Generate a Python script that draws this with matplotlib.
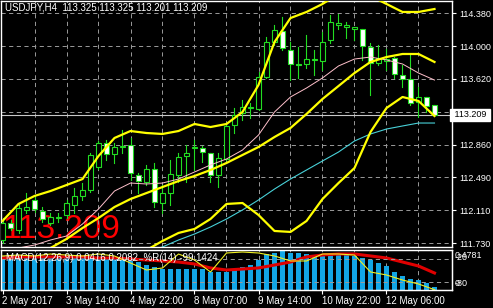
import numpy as np
import matplotlib
matplotlib.use("Agg")
import matplotlib.pyplot as plt
import matplotlib.transforms as mtransforms
from matplotlib.patches import Rectangle

plt.rcParams['font.family'] = ['Liberation Sans', 'DejaVu Sans']
plt.rcParams['lines.scale_dashes'] = False

# USDJPY H4 candles
opens = [111.766, 111.960, 111.882, 112.112, 112.227, 112.100, 111.962, 112.019, 112.054, 112.169,
         112.273, 112.342, 112.607, 112.883, 112.756, 112.837, 112.860, 112.515, 112.434, 112.584,
         112.192, 112.307, 112.515, 112.733, 112.825, 112.825, 112.768, 112.515, 112.699, 113.090,
         113.228, 113.286, 113.275, 113.643, 114.046, 114.173, 113.954, 113.793, 113.793, 113.839,
         113.827, 114.069, 114.242, 114.219, 114.196, 114.196, 113.988, 113.804, 113.827, 113.862,
         113.666, 113.620, 113.355, 113.413, 113.325]
highs = [112.019, 112.000, 112.192, 112.307, 112.284, 112.146, 112.077, 112.077, 112.227, 112.365,
         112.422, 112.768, 112.906, 112.918, 112.883, 113.033, 112.941, 112.538, 112.630, 112.653,
         112.399, 112.687, 112.768, 112.860, 112.918, 112.849, 112.768, 112.768, 113.113, 113.286,
         113.378, 113.344, 113.701, 114.104, 114.242, 114.334, 114.046, 113.988, 114.127, 113.954,
         114.161, 114.357, 114.368, 114.276, 114.219, 114.196, 114.035, 114.012, 113.965, 113.873,
         113.781, 113.896, 113.528, 113.413, 113.325]
lows = [111.735, 111.880, 111.847, 112.077, 112.089, 111.973, 111.939, 111.973, 112.019, 112.077,
        112.227, 112.319, 112.584, 112.687, 112.653, 112.768, 112.457, 112.307, 112.399, 112.146,
        112.077, 112.169, 112.434, 112.434, 112.572, 112.664, 112.434, 112.376, 112.687, 112.998,
        113.148, 113.171, 113.263, 113.631, 114.012, 113.954, 113.608, 113.631, 113.747, 113.666,
        113.724, 114.035, 114.196, 114.092, 114.069, 113.839, 113.436, 113.781, 113.724, 113.631,
        113.528, 113.321, 113.182, 113.240, 113.201]
closes = [111.962, 111.900, 112.135, 112.146, 112.123, 112.008, 112.031, 112.031, 112.192, 112.273,
          112.342, 112.745, 112.883, 112.756, 112.837, 112.849, 112.538, 112.445, 112.584, 112.204,
          112.307, 112.526, 112.722, 112.768, 112.837, 112.779, 112.515, 112.710, 113.079, 113.205,
          113.298, 113.298, 113.643, 114.046, 114.184, 113.977, 113.793, 113.781, 113.850, 113.850,
          114.046, 114.276, 114.265, 114.242, 114.219, 114.000, 113.804, 113.862, 113.850, 113.678,
          113.620, 113.344, 113.413, 113.309, 113.209]

# indicator lines, read every second bar
line_bars = list(range(0, 55, 2))
bb_upper = [111.985, 112.181, 112.273, 112.330, 112.399, 112.468, 112.733, 112.941, 113.021, 112.998,
            112.987, 113.021, 113.102, 113.067, 113.102, 113.240, 113.551, 114.046, 114.322, 114.392,
            114.484, 114.599, 114.645, 114.576, 114.484, 114.392, 114.392, 114.426]
bb_middle = [111.317, 111.444, 111.559, 111.674, 111.778, 111.904, 112.019, 112.146, 112.238, 112.307,
             112.376, 112.445, 112.503, 112.572, 112.653, 112.745, 112.837, 112.952, 113.056, 113.217,
             113.390, 113.539, 113.689, 113.816, 113.873, 113.908, 113.908, 113.816]
bb_lower = [111.60, 111.56, 111.52, 111.48, 111.45, 111.45, 111.47, 111.51, 111.58, 111.65,
            111.755, 111.847, 111.893, 112.008, 112.181, 112.192, 112.054, 111.870, 111.859, 111.985,
            112.238, 112.422, 112.595, 113.010, 113.286, 113.413, 113.367, 113.194]
ma_pink = [111.628, 111.674, 111.708, 111.766, 111.812, 111.950, 112.123, 112.330, 112.422, 112.411,
           112.422, 112.468, 112.549, 112.630, 112.699, 112.802, 112.975, 113.240, 113.413, 113.516,
           113.632, 113.770, 113.850, 113.873, 113.839, 113.793, 113.689, 113.608]
ma_cyan = [111.20, 111.24, 111.28, 111.33, 111.38, 111.42, 111.47, 111.52, 111.57, 111.63,
           111.686, 111.766, 111.835, 111.916, 112.008, 112.112, 112.227, 112.353, 112.468, 112.572,
           112.676, 112.779, 112.906, 112.987, 113.044, 113.079, 113.113, 113.113]

# MACD(12,26,9) histogram per bar, signal and %R(14) every second bar
macd_main = [0.417, 0.417, 0.417, 0.405, 0.405, 0.405, 0.405, 0.405, 0.392, 0.392,
             0.392, 0.392, 0.392, 0.392, 0.405, 0.405, 0.368, 0.343, 0.306, 0.282,
             0.257, 0.257, 0.257, 0.257, 0.257, 0.257, 0.221, 0.221, 0.221, 0.245,
             0.282, 0.306, 0.368, 0.441, 0.454, 0.478, 0.454, 0.454, 0.441, 0.429,
             0.417, 0.441, 0.441, 0.429, 0.417, 0.392, 0.368, 0.331, 0.294, 0.221,
             0.172, 0.135, 0.123, 0.086, 0.0416]
macd_signal = [0.392, 0.405, 0.405, 0.405, 0.405, 0.405, 0.392, 0.392, 0.380, 0.368,
               0.356, 0.343, 0.319, 0.270, 0.245, 0.257, 0.270, 0.306, 0.343, 0.405,
               0.429, 0.441, 0.441, 0.417, 0.392, 0.343, 0.294, 0.2082]
wpr = [-12.8, -10.3, -12.8, -7.7, -10.3, -12.8, -7.7, -12.8, -30.8, -48.7,
       -43.6, -7.7, -23.1, -53.8, -5.1, -2.6, -5.1, -12.8, -25.6, -25.6,
       -7.7, -7.7, -10.3, -53.8, -61.5, -74.4, -84.6, -99.1]

price_ticks = [114.380, 114.000, 113.620, 112.860, 112.490, 112.110, 111.730]
grid_prices = [114.380, 114.000, 113.620, 113.240, 112.860, 112.490, 112.110, 111.730]
time_bars = [0, 8, 16, 24, 32, 40, 48]
time_labels = ["2 May 2017", "3 May 14:00", "4 May 22:00", "8 May 07:00",
               "9 May 14:00", "10 May 22:00", "12 May 06:00"]
last_price = 113.209

W, H = 493, 308
GREEN = '#22dd22'
GRID = '#9a9a9a'


def px(x, y):
    return x / W, 1 - y / H


def draw_grid(ax, hlevels):
    for v in hlevels:
        ax.axhline(v, color=GRID, lw=0.7, ls=(0, (3, 2.5)), zorder=1)
    for k in range(1, 14):
        ax.axvline(4 * k, color=GRID, lw=0.7, ls=(0, (3, 2.5)), zorder=1)


def draw_candles(ax):
    for i in range(len(opens)):
        o, h, l, c = opens[i], highs[i], lows[i], closes[i]
        ax.plot([i, i], [l, h], color=GREEN, lw=0.8, zorder=2)
        face = 'white' if c < o else 'black'
        ax.add_patch(Rectangle((i - 0.28, min(o, c)), 0.56, abs(c - o),
                               facecolor=face, edgecolor=GREEN, lw=0.8, zorder=3))


fig = plt.figure(figsize=(W / 100, H / 100), dpi=100, facecolor='black')
ax = fig.add_axes([1 / W, 1 - 247 / H, 451 / W, 246 / H], facecolor='black')
sub = fig.add_axes([1 / W, 1 - 290 / H, 451 / W, 40 / H], facecolor='black')

xlo, xhi = -0.1875, 56.1875
ax.set_xlim(xlo, xhi)
ax.set_ylim(111.6854, 114.5182)
sub.set_xlim(xlo, xhi)

for a in (ax, sub):
    for s in a.spines.values():
        s.set_color('white')
        s.set_linewidth(1)

# main chart
ax.text(0.004, 0.036, "113.209", transform=ax.transAxes, color='#ff0000',
        fontsize=24, va='baseline', ha='left', zorder=0.5)
draw_grid(ax, grid_prices)
ax.axhline(last_price, color='#c8c8c8', lw=0.8, zorder=1.5)
draw_candles(ax)
ax.plot(line_bars, ma_cyan, color='#48d1d8', lw=0.8, zorder=4)
ax.plot(line_bars, ma_pink, color='#ffc0cb', lw=0.7, zorder=4)
for band in (bb_upper, bb_middle, bb_lower):
    ax.plot(line_bars, band, color='#ffff00', lw=1.6, zorder=5)

ax.set_xticks([])
ax.yaxis.tick_right()
ax.set_yticks(price_ticks)
ax.set_yticklabels(["%.3f" % v for v in price_ticks])
ax.tick_params(axis='y', colors='white', length=3, width=0.8, pad=2, labelsize=6.5)

trans = mtransforms.blended_transform_factory(ax.transAxes, ax.transData)
ax.text(1.0, last_price, " 113.209 ", transform=trans, color='black', fontsize=6.5,
        va='center', ha='left', clip_on=False,
        bbox=dict(facecolor='white', edgecolor='white', pad=1.2))

fig.text(*px(5, 8), "USDJPY,H4  113.325 113.325 113.201 113.209", color='white',
         fontsize=7, va='center', ha='left')

# MACD + %R window
sub.set_ylim(0, 0.490)
draw_grid(sub, [])
sub.bar(range(len(macd_main)), macd_main, width=0.6, color='#12a6e6', zorder=2)
sub.plot(line_bars, macd_signal, color='#e00000', lw=2.2, zorder=4)
wax = sub.twinx()
wax.set_ylim(-100, 2.56)
wax.set_xlim(xlo, xhi)
for lv in (-20, -80):
    wax.axhline(lv, color=GRID, lw=0.7, ls=(0, (3, 2.5)), zorder=1)
wax.plot(line_bars, wpr, color='#f0f020', lw=0.8, zorder=5)
wax.set_yticks([])
for s in wax.spines.values():
    s.set_color('white')

sub.set_yticks([])
sub.set_xticks(time_bars)
sub.set_xticklabels(time_labels)
for lab in sub.get_xticklabels():
    lab.set_horizontalalignment('left')
sub.tick_params(axis='x', colors='white', length=3, width=0.8, pad=1, labelsize=7)

fig.text(*px(6, 258), "MACD(12,26,9) 0.0416 0.2082  %R(14) -99.1424", color='white',
         fontsize=7, va='center', ha='left', zorder=10)
fig.text(*px(455, 256), "0.4781", color='white', fontsize=6.5, va='center', ha='left')
fig.text(*px(455, 258), "-20", color='white', fontsize=6.5, va='center', ha='left')
fig.text(*px(455, 283), "-80", color='white', fontsize=6.5, va='center', ha='left')
fig.text(*px(455, 283), "0", color='white', fontsize=6.5, va='center', ha='left')

fig.savefig("out.png", dpi=100, facecolor='black')
